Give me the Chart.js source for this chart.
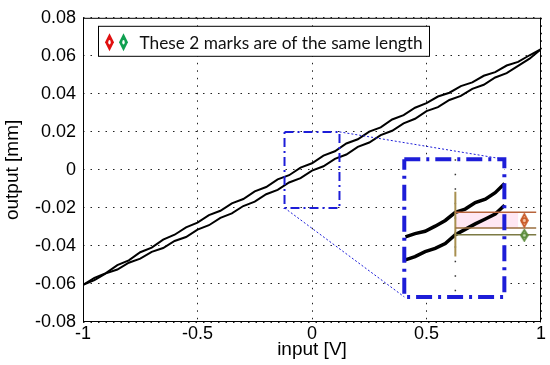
<!DOCTYPE html>
<html>
<head>
<meta charset="utf-8">
<script src="https://cdn.jsdelivr.net/npm/chart.js@4"></script>
<style>
  html, body { margin: 0; padding: 0; background: #fff; }
</style>
</head>
<body>
<canvas id="myChart" width="550" height="365"></canvas>
<script>
// input voltage samples (V)
const inputV = [-1, -0.95, -0.9, -0.85, -0.8, -0.75, -0.7, -0.65, -0.6, -0.55, -0.5,
  -0.45, -0.4, -0.35, -0.3, -0.25, -0.2, -0.15, -0.1, -0.05, 0,
  0.05, 0.1, 0.15, 0.2, 0.25, 0.3, 0.35, 0.4, 0.45, 0.5,
  0.55, 0.6, 0.65, 0.7, 0.75, 0.8, 0.85, 0.9, 0.95, 1];
// output (mm), upper branch of the loop
const upperBranch = [-0.0605, -0.0568, -0.0543, -0.0501, -0.0476, -0.0433, -0.0409, -0.0367, -0.0341, -0.0302, -0.0277,
  -0.0238, -0.0215, -0.0176, -0.0153, -0.0113, -0.0090, -0.0050, -0.0028, 0.0012, 0.0035,
  0.0075, 0.0098, 0.0139, 0.0161, 0.0201, 0.0224, 0.0265, 0.0288, 0.0327, 0.0351,
  0.0386, 0.0406, 0.0441, 0.0460, 0.0495, 0.0514, 0.0549, 0.0568, 0.0603, 0.0635];
// output (mm), lower branch of the loop
const lowerBranch = [-0.0605, -0.0580, -0.0544, -0.0524, -0.0488, -0.0467, -0.0431, -0.0411, -0.0374, -0.0353, -0.0314,
  -0.0291, -0.0252, -0.0229, -0.0190, -0.0167, -0.0128, -0.0105, -0.0066, -0.0043, -0.0004,
  0.0019, 0.0058, 0.0081, 0.0121, 0.0144, 0.0183, 0.0206, 0.0245, 0.0269, 0.0309,
  0.0330, 0.0368, 0.0389, 0.0426, 0.0448, 0.0486, 0.0509, 0.0547, 0.0585, 0.0635];

// magnified view (drawn in the inset box, main-axis units)
const insetX = [0.408, 0.45, 0.494, 0.538, 0.582, 0.626, 0.669, 0.713, 0.757, 0.8, 0.841];
const insetUpper = [-0.0352, -0.0335, -0.0323, -0.0296, -0.0266, -0.0223, -0.0206, -0.0172, -0.0154, -0.0120, -0.0072];
const insetLower = [-0.0473, -0.0456, -0.0430, -0.0413, -0.0387, -0.0341, -0.0313, -0.0284, -0.0258, -0.0232, -0.0186];

// zoom region and inset box corners [xmin, xmax, ymin, ymax]
const zoomRegion = [-0.12, 0.12, -0.02, 0.02];
const insetBox = [0.403, 0.84, -0.0668, 0.0056];

// measurement marks in the inset
const cursorX = [0.626, 0.979];
const cursorY = [-0.0223, -0.0306, -0.0341];
const cursorVert = [-0.0115, -0.0456];
const markX = 0.927;
const markY = [-0.0266, -0.0344];

const xTickLabels = ['-1', '-0.5', '0', '0.5', '1'];
const yTickLabels = ['-0.08', '-0.06', '-0.04', '-0.02', '0', '0.02', '0.04', '0.06', '0.08'];

const BLUE = '#1d1dd8';
const tickFont = { family: '"Liberation Sans", Arial, sans-serif', size: 18 };

function pts(xs, ys) {
  return xs.map((x, i) => ({ x: x, y: ys[i] }));
}
function rect(r) {
  return [{ x: r[0], y: r[3] }, { x: r[1], y: r[3] }, { x: r[1], y: r[2] }, { x: r[0], y: r[2] }, { x: r[0], y: r[3] }];
}
function diamondImage(stroke, fill, w, h) {
  const c = document.createElement('canvas');
  c.width = w; c.height = h;
  const g = c.getContext('2d');
  g.beginPath();
  g.moveTo(w / 2, 1); g.lineTo(w - 1, h / 2); g.lineTo(w / 2, h - 1); g.lineTo(1, h / 2);
  g.closePath();
  g.fillStyle = fill; g.fill();
  g.strokeStyle = stroke; g.lineWidth = 1.6; g.stroke();
  g.beginPath(); g.ellipse(w / 2, h / 2, w / 4, h / 6, 0, 0, 2 * Math.PI); g.stroke();
  return c;
}

const boxPlugin = {
  id: 'boxPlugin',
  afterDatasetsDraw(chart) {
    const { ctx, chartArea: a } = chart;
    ctx.save();
    ctx.strokeStyle = '#000';
    ctx.lineWidth = 1;
    ctx.strokeRect(a.left + 0.5, a.top + 0.5, a.right - a.left - 1, a.bottom - a.top - 1);

    // legend box
    const lx = a.left + 15.5, ly = a.top + 8.5, lw = 331, lh = 30;
    ctx.fillStyle = '#fff';
    ctx.fillRect(lx, ly, lw, lh);
    ctx.strokeRect(lx, ly, lw, lh);
    const cy = ly + lh / 2 + 1;
    [['#e01010', lx + 11], ['#10a050', lx + 25]].forEach(([col, mx]) => {
      ctx.beginPath();
      ctx.moveTo(mx, cy - 9); ctx.lineTo(mx + 4.5, cy); ctx.lineTo(mx, cy + 9); ctx.lineTo(mx - 4.5, cy);
      ctx.closePath();
      ctx.fillStyle = col; ctx.fill();
      ctx.beginPath(); ctx.ellipse(mx, cy, 1.2, 2.2, 0, 0, 2 * Math.PI);
      ctx.fillStyle = '#fff'; ctx.fill();
    });
    const text = 'These 2 marks are of the same length';
    ctx.font = '100px Lato';
    const size = 100 * 284 / ctx.measureText(text).width;
    ctx.font = size.toFixed(1) + 'px Lato';
    ctx.fillStyle = '#111';
    ctx.textBaseline = 'alphabetic';
    ctx.fillText(text, lx + 41, ly + 23);
    ctx.restore();
  }
};

const ctx = document.getElementById('myChart');
new Chart(ctx, {
  type: 'scatter',
  data: {
    datasets: [
      { label: 'mark1', data: [{ x: markX, y: markY[0] }], pointStyle: diamondImage('#c85a28', '#f6c8a8', 9, 15), order: 1 },
      { label: 'mark2', data: [{ x: markX, y: markY[1] }], pointStyle: diamondImage('#5a8a3a', '#cfe3c0', 9, 13), order: 1 },
      { label: 'zoom box', data: rect(zoomRegion), showLine: true, borderColor: BLUE, borderWidth: 2,
        borderDash: [9, 4, 2, 4], pointRadius: 0, order: 2 },
      { label: 'inset box', data: rect(insetBox), showLine: true, borderColor: BLUE, borderWidth: 4,
        borderDash: [16, 6, 3, 6], pointRadius: 0, order: 2 },
      { label: 'link1', data: [{ x: zoomRegion[1], y: zoomRegion[3] }, { x: insetBox[1], y: insetBox[3] }],
        showLine: true, borderColor: BLUE, borderWidth: 1, borderDash: [2, 2], pointRadius: 0, order: 3 },
      { label: 'link2', data: [{ x: zoomRegion[0], y: zoomRegion[2] }, { x: insetBox[0], y: insetBox[2] }],
        showLine: true, borderColor: BLUE, borderWidth: 1, borderDash: [2, 2], pointRadius: 0, order: 3 },
      { label: 'cursor1', data: [{ x: cursorX[0], y: cursorY[0] }, { x: cursorX[1], y: cursorY[0] }],
        showLine: true, borderColor: '#b8643c', borderWidth: 1.5, pointRadius: 0, order: 4 },
      { label: 'cursor2', data: [{ x: cursorX[0], y: cursorY[1] }, { x: cursorX[1], y: cursorY[1] }],
        showLine: true, borderColor: '#9a6e3e', borderWidth: 1.5, pointRadius: 0, order: 4 },
      { label: 'cursor3', data: [{ x: cursorX[0], y: cursorY[2] }, { x: cursorX[1], y: cursorY[2] }],
        showLine: true, borderColor: '#7c7a44', borderWidth: 1.5, pointRadius: 0, order: 4 },
      { label: 'cursorV', data: [{ x: cursorX[0], y: cursorVert[0] }, { x: cursorX[0], y: cursorVert[1] }],
        showLine: true, borderColor: '#a89050', borderWidth: 2, pointRadius: 0, order: 4 },
      { label: 'inset upper', data: pts(insetX, insetUpper), showLine: true, borderColor: '#000',
        borderWidth: 3.5, pointRadius: 0, order: 5 },
      { label: 'inset lower', data: pts(insetX, insetLower), showLine: true, borderColor: '#000',
        borderWidth: 3.5, pointRadius: 0, order: 5 },
      { label: 'inset grid', data: [{ x: cursorX[0], y: insetBox[3] }, { x: cursorX[0], y: insetBox[2] }],
        showLine: true, borderColor: '#333', borderWidth: 1.5, borderDash: [1.5, 13], pointRadius: 0, order: 6 },
      { label: 'shade', data: [{ x: cursorX[0], y: cursorY[0] }, { x: 0.9, y: cursorY[0] }, { x: 0.9, y: cursorY[1] }, { x: cursorX[0], y: cursorY[1] }],
        showLine: true, borderWidth: 0, borderColor: 'rgba(0,0,0,0)', backgroundColor: 'rgba(255,175,215,0.3)',
        fill: 'shape', pointRadius: 0, order: 7 },
      { label: 'upper', data: pts(inputV, upperBranch), showLine: true, borderColor: '#000',
        borderWidth: 2, pointRadius: 0, order: 8 },
      { label: 'lower', data: pts(inputV, lowerBranch), showLine: true, borderColor: '#000',
        borderWidth: 2, pointRadius: 0, order: 8 },
      { label: 'inset bg', data: rect(insetBox), showLine: true, borderWidth: 0, borderColor: 'rgba(0,0,0,0)',
        backgroundColor: '#fff', fill: 'shape', pointRadius: 0, order: 9 }
    ]
  },
  options: {
    responsive: false,
    animation: false,
    layout: { padding: { top: 12, right: 9, left: 0, bottom: 0 } },
    plugins: { legend: { display: false }, tooltip: { enabled: false } },
    scales: {
      x: {
        type: 'linear', min: -1, max: 1,
        afterFit: (s) => { s.height = 43; },
        ticks: { stepSize: 0.5, padding: 1, color: '#000', font: tickFont, maxRotation: 0,
          callback: (v, i) => xTickLabels[i] },
        grid: { color: '#222', lineWidth: 1, drawTicks: false },
        border: { display: false, dash: [1.5, 6] },
        title: { display: true, text: 'input [V]', color: '#000', font: { family: tickFont.family, size: 19 },
          padding: { top: 0, bottom: 4 } }
      },
      y: {
        type: 'linear', min: -0.08, max: 0.08,
        afterFit: (s) => { s.width = 83; },
        ticks: { stepSize: 0.02, padding: 7, color: '#000', font: tickFont,
          callback: (v, i) => yTickLabels[i] },
        grid: { color: '#222', lineWidth: 1, drawTicks: false },
        border: { display: false, dash: [1.5, 6] },
        title: { display: true, text: 'output [mm]', color: '#000', font: { family: tickFont.family, size: 19 },
          padding: { top: 1, bottom: 0 } }
      }
    }
  },
  plugins: [boxPlugin]
});
</script>
</body>
</html>
